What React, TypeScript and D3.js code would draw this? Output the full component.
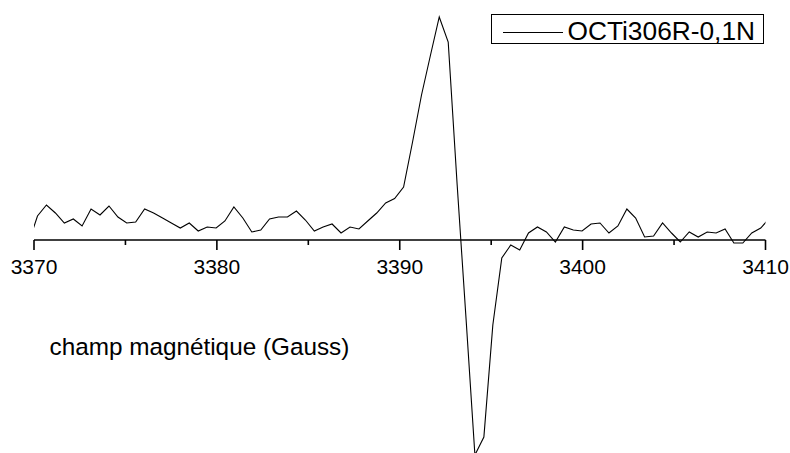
import React from "react";
import * as d3 from "d3";

// Magnetic field (Gauss), one point every ~0.488 G
const field: number[] = [
  3369.70, 3370.19, 3370.68, 3371.17, 3371.66, 3372.15, 3372.63, 3373.12, 3373.61, 3374.10,
  3374.59, 3375.07, 3375.56, 3376.05, 3376.54, 3377.03, 3377.51, 3378.00, 3378.49, 3378.98,
  3379.47, 3379.96, 3380.44, 3380.93, 3381.42, 3381.91, 3382.40, 3382.88, 3383.37, 3383.86,
  3384.35, 3384.84, 3385.33, 3385.81, 3386.30, 3386.79, 3387.28, 3387.77, 3388.25, 3388.74,
  3389.23, 3389.72, 3390.21, 3390.70, 3391.19, 3391.67, 3392.16, 3392.65, 3393.14, 3393.63,
  3394.11, 3394.60, 3395.09, 3395.58, 3396.07, 3396.56, 3397.04, 3397.53, 3398.02, 3398.51,
  3399.00, 3399.49, 3399.97, 3400.46, 3400.95, 3401.44, 3401.93, 3402.42, 3402.90, 3403.39,
  3403.88, 3404.37, 3404.86, 3405.34, 3405.83, 3406.32, 3406.81, 3407.30, 3407.79, 3408.27,
  3408.76, 3409.25, 3409.74, 3410.23,
];

// EPR signal intensity (arbitrary units)
const intensity: number[] = [
  -3, 24, 35, 27, 17, 21, 14, 31, 25, 34,
  23, 17, 18, 31, 27, 22, 17, 12, 17, 9,
  13, 12, 19, 33, 22, 8, 10, 21, 23, 23,
  29, 20, 9, 13, 16, 7, 13, 11, 19, 27,
  37, 41.5, 53, 98, 145, 184, 223, 198, 55, -80,
  -215, -197, -85, -18, -5, -10, 7, 13, 8, -2,
  13, 10, 9, 16, 17, 7, 14, 31, 22, 3,
  4, 17, 7, -2, 8, 3, 8, 7, 11, -3,
  -3, 7, 12, 22,
];

const majorTicks: number[] = [3370, 3380, 3390, 3400, 3410];
const minorTicks: number[] = [3375, 3385, 3395, 3405];
const xTitle = "champ magnétique (Gauss)";
const seriesName = "OCTi306R-0,1N";

const W = 790;
const H = 453;
const FONT = "'Liberation Sans', Arial, Helvetica, sans-serif";

export default function App() {
  const x = d3.scaleLinear().domain([3370, 3410]).range([34, 765.5]);
  const y = d3.scaleLinear().domain([0, 100]).range([240, 140]);
  const axisY = y(0);

  const pts: [number, number][] = field.map((f, i) => [f, intensity[i]]);
  const line = d3
    .line<[number, number]>()
    .x((d) => x(d[0]))
    .y((d) => y(d[1]));

  return (
    <svg
      width={W}
      height={H}
      style={{ position: "absolute", left: 0, top: 0, display: "block", background: "#fff" }}
    >
      <defs>
        <clipPath id="plotClip">
          <rect x={x(3370)} y={0} width={x(3410) - x(3370)} height={H} />
        </clipPath>
      </defs>
      <rect x={0} y={0} width={W} height={H} fill="#fff" />

      <path
        d={line(pts) || ""}
        fill="none"
        stroke="#000"
        strokeWidth={1.1}
        strokeLinejoin="miter"
        clipPath="url(#plotClip)"
      />

      {/* x axis */}
      <line x1={x(3370)} x2={x(3410)} y1={axisY} y2={axisY} stroke="#000" strokeWidth={1.6} />
      {majorTicks.map((t) => (
        <g key={"M" + t}>
          <line x1={x(t)} x2={x(t)} y1={axisY} y2={axisY + 10} stroke="#000" strokeWidth={1.6} />
          <text
            x={x(t)}
            y={274}
            textAnchor="middle"
            fontFamily={FONT}
            fontSize={21}
            fill="#000"
          >
            {t}
          </text>
        </g>
      ))}
      {minorTicks.map((t) => (
        <line key={"m" + t} x1={x(t)} x2={x(t)} y1={axisY} y2={axisY + 5} stroke="#000" strokeWidth={1.6} />
      ))}

      <text x={49.5} y={355} fontFamily={FONT} fontSize={24.3} fill="#000">
        {xTitle}
      </text>

      {/* legend */}
      <rect x={491.5} y={14.5} width={272} height={29} fill="#fff" stroke="#000" strokeWidth={1} />
      <line x1={503} x2={563} y1={32.5} y2={32.5} stroke="#000" strokeWidth={1.1} />
      <text x={567.5} y={39.5} fontFamily={FONT} fontSize={26.3} fill="#000">
        {seriesName}
      </text>
    </svg>
  );
}
